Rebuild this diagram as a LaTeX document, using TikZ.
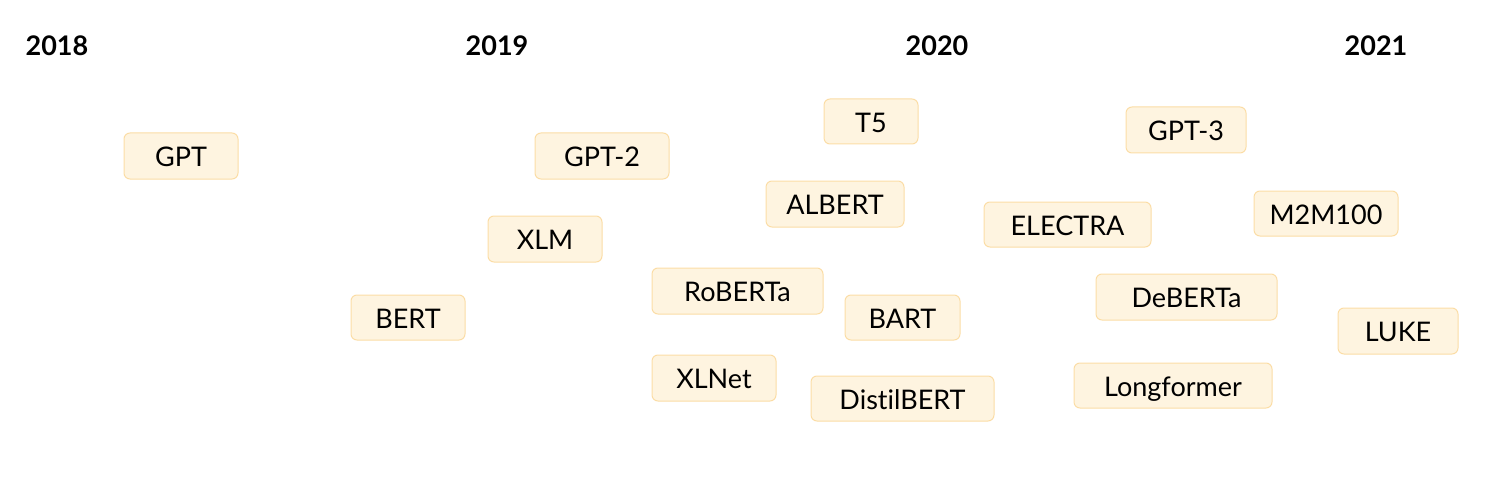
\documentclass[tikz,border=0pt]{standalone}
\usepackage{fontspec}
\setmainfont{Lato}[Ligatures=NoCommon]
\definecolor{boxfill}{HTML}{FEF4E0}
\definecolor{boxline}{HTML}{FBDDA6}
\tikzset{
  mbox/.style={draw=boxline, fill=boxfill, line width=1pt, rounded corners=6pt,
    inner sep=0pt, text height=19.5pt, text depth=0pt,
    font=\fontsize{27}{31}\selectfont, text=black},
  yr/.style={font=\fontsize{27}{31}\selectfont\bfseries, inner sep=0pt,
    text height=19.5pt, text depth=0pt, text=black}
}
\newcommand{\mb}[6]{% name, left, top, right, bottom, text
  \node[mbox, minimum width={#4-#2}, minimum height={#5-#3}] (#1) at ({(#2+#4)/2},{(#3+#5)/2}) {\raisebox{-1pt}{#6}};}
\begin{document}
\begin{tikzpicture}[x=1pt,y=-1pt]
\useasboundingbox (0,0) rectangle (1494,492);
\node[yr] (y18) at (57,46) {2018};
\node[yr] (y19) at (497,46) {2019};
\node[yr] (y20) at (937,46) {2020};
\node[yr] (y21) at (1376,46) {2021};
\mb{gpt}{124}{133}{238}{179}{GPT}
\mb{gpttwo}{535}{133}{669}{179}{GPT-2}
\mb{xlm}{488}{216}{602}{262}{XLM}
\mb{bert}{351}{295}{465}{340}{BERT}
\mb{tfive}{824}{99}{918}{144}{T5}
\mb{albert}{766}{181}{904}{227}{ALBERT}
\mb{roberta}{652}{268}{823}{314}{RoBERTa}
\mb{bart}{845}{295}{960}{340}{BART}
\mb{xlnet}{652}{355}{776}{401}{XLNet}
\mb{distil}{811}{376}{994}{421}{DistilBERT}
\mb{gptthree}{1126}{107}{1246}{153}{GPT-3}
\mb{electra}{984}{202}{1151}{247}{ELECTRA}
\mb{deberta}{1096}{274}{1277}{320}{DeBERTa}
\mb{longformer}{1074}{363}{1272}{408}{Longformer}
\mb{mtm}{1254}{191}{1398}{236}{M2M100}
\mb{luke}{1338}{308}{1458}{354}{LUKE}
\end{tikzpicture}
\end{document}
